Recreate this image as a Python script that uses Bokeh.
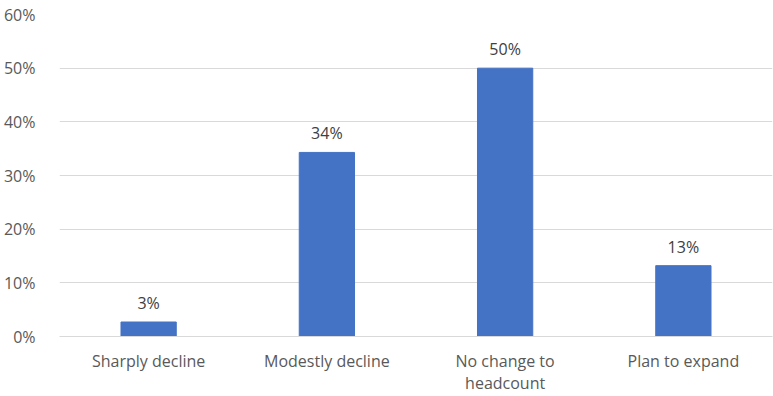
from bokeh.plotting import figure
from bokeh.models import ColumnDataSource, FixedTicker, NumeralTickFormatter, Range1d
from bokeh.core.properties import value
from bokeh.embed import file_html
from bokeh.resources import INLINE

categories = ["Sharply decline", "Modestly decline", "No change to\nheadcount", "Plan to expand"]
shares = [0.027, 0.343, 0.500, 0.132]
share_labels = ["3%", "34%", "50%", "13%"]
y_ticks = [0.0, 0.1, 0.2, 0.3, 0.4, 0.5, 0.6]

FONT = "Open Sans"
xs = list(range(len(categories)))
src = ColumnDataSource(dict(x=xs, top=shares, lab=share_labels))

p = figure(width=773, height=396, output_backend="svg", toolbar_location=None,
           x_range=Range1d(-0.5, len(categories) - 0.5), y_range=Range1d(0, 0.6),
           min_border_left=57, min_border_right=1, min_border_top=14, min_border_bottom=0)
p.outline_line_color = None
p.background_fill_color = "white"
p.border_fill_color = "white"

p.vbar(x="x", top="top", width=0.31, bottom=0, source=src, color="#4472c4")
p.text(x="x", y="top", text="lab", source=src, text_align="center", text_baseline="bottom",
       y_offset=-8, text_font=value(FONT), text_font_size="16px", text_color="#404040")

p.xgrid.visible = False
p.ygrid.grid_line_color = "#d9d9d9"
p.ygrid.grid_line_width = 1

p.yaxis.ticker = FixedTicker(ticks=y_ticks)
p.yaxis.formatter = NumeralTickFormatter(format="0%")
p.xaxis.ticker = FixedTicker(ticks=xs)
p.xaxis.major_label_overrides = {i: c for i, c in enumerate(categories)}

for ax in (p.xaxis, p.yaxis):
    ax.axis_line_color = None
    ax.major_tick_line_color = None
    ax.minor_tick_line_color = None
    ax.major_tick_out = 0
    ax.major_tick_in = 0
    ax.minor_tick_out = 0
    ax.minor_tick_in = 0
    ax.axis_label_standoff = 0
    ax.major_label_text_font = FONT
    ax.major_label_text_font_size = "16px"
    ax.major_label_text_color = "#595959"
p.xaxis.axis_line_color = "#d9d9d9"
p.xaxis.major_label_text_line_height = 1.0
p.yaxis.major_label_standoff = 24
p.xaxis.major_label_standoff = 13

open("out.html", "w").write(file_html(p, INLINE))
